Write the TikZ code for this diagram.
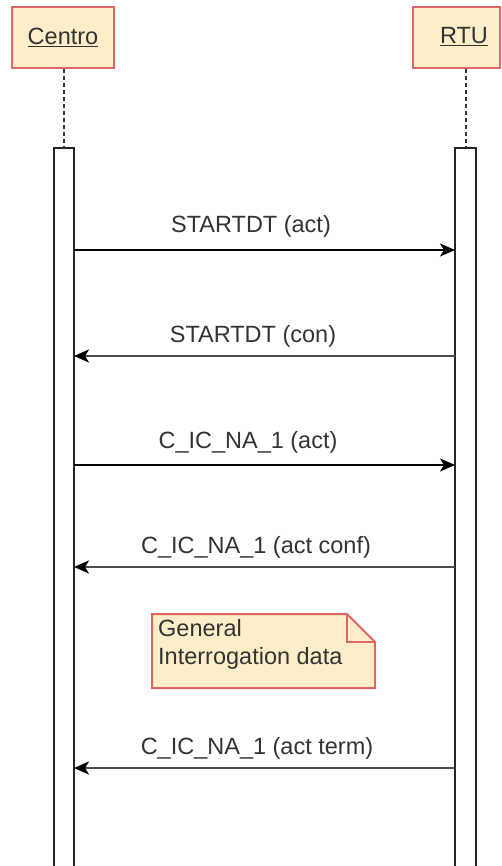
\documentclass[tikz,border=0pt]{standalone}
\usepackage{fontspec}
\setmainfont{Liberation Sans}
\usetikzlibrary{arrows.meta}
\definecolor{boxfill}{HTML}{FDEEC9}
\definecolor{boxline}{HTML}{E06666}
\definecolor{txt}{HTML}{333333}
\tikzset{
  actor/.style={draw=boxline, fill=boxfill, line width=2pt, minimum height=61pt, inner sep=0pt},
  lbl/.style={text=txt, inner sep=0pt, font=\fontsize{23.5}{28}\selectfont},
  bar/.style={draw=black!85, fill=white, line width=2pt},
  life/.style={draw=black!80, line width=2pt, dash pattern=on 4pt off 3pt},
  msg/.style={draw=black, line width=1.8pt, -{Stealth[length=15pt,width=13pt,inset=4pt]}},
  ret/.style={draw=black!70, line width=2.2pt, -{Stealth[length=15pt,width=13pt,inset=4pt,color=black]}},
}
\begin{document}
\begin{tikzpicture}[x=1pt,y=-1pt]
\useasboundingbox (0,0) rectangle (502,866);
% actors
\node[actor, minimum width=102pt] (centro) at (63,37.5) {};
\node[lbl] (centrolbl) at (63,37) {\underline{Centro}};
\node[actor, minimum width=87pt] (rtu) at (456.5,37.5) {};
\node[lbl] (rtulbl) at (464,37) {\underline{RTU}};
% activation bars
\node[bar, minimum width=20pt, minimum height=730pt, anchor=north] (cbar) at (64,147) {};
\node[bar, minimum width=21pt, minimum height=730pt, anchor=north] (rbar) at (465.5,147) {};
% lifelines
\draw[life] (centro.south -| cbar.north) -- (cbar.north);
\draw[life] (rtu.south -| rbar.north) -- (rbar.north);
% messages
\coordinate (c1) at (74,250); \coordinate (r1) at (455,250);
\coordinate (c2) at (74,356); \coordinate (r2) at (455,356);
\coordinate (c3) at (74,465); \coordinate (r3) at (455,465);
\coordinate (c4) at (74,567); \coordinate (r4) at (455,567);
\coordinate (c5) at (74,768); \coordinate (r5) at (455,768);
\draw[msg] (c1) -- (r1);
\node[lbl] (m1) at (251,226.5) {STARTDT (act)};
\draw[ret] (r2) -- (c2);
\node[lbl] (m2) at (253,336.5) {STARTDT (con)};
\draw[msg] (c3) -- (r3);
\node[lbl] (m3) at (248,442) {C\_IC\_NA\_1 (act)};
\draw[ret] (r4) -- (c4);
\node[lbl] (m4) at (256,547) {C\_IC\_NA\_1 (act conf)};
\draw[ret] (r5) -- (c5);
\node[lbl] (m5) at (257,748) {C\_IC\_NA\_1 (act term)};
% note
\draw[draw=boxline, fill=boxfill, line width=2pt]
  (152,614) -- (347,614) -- (375,642) -- (375,688) -- (152,688) -- cycle;
\draw[draw=boxline, line width=2pt] (347,614) -- (347,642) -- (375,642);
\node[lbl, align=left, anchor=north west] (note) at (158,619) {General\\Interrogation data};
\end{tikzpicture}
\end{document}
